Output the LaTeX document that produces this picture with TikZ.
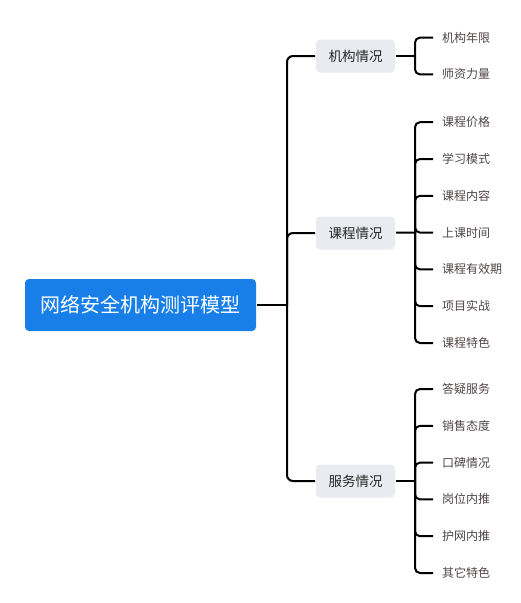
\documentclass[tikz,border=0pt]{standalone}
\usepackage{fontspec}
\newfontfamily\cjk{Noto Sans CJK SC}
\usetikzlibrary{positioning}
\definecolor{rootblue}{RGB}{24,127,233}
\definecolor{topicgray}{RGB}{232,235,239}
\definecolor{leaftext}{RGB}{78,70,70}
\tikzset{
    rootbox/.style = {rectangle, rounded corners=4pt, fill=rootblue, text=white,
        minimum width=231pt, minimum height=52pt, inner sep=0pt,
        font=\cjk\fontsize{20}{23}\selectfont},
    topicbox/.style = {rectangle, rounded corners=4pt, fill=topicgray, text=black!85,
        minimum width=79pt, minimum height=33pt, inner sep=0pt,
        font=\cjk\fontsize{13.5}{16}\selectfont},
    leaf/.style = {anchor=west, inner xsep=8pt, inner ysep=2pt, text=leaftext,
        font=\cjk\fontsize{12}{14}\selectfont},
    branch/.style = {rounded corners=6pt}}

\begin{document}
\begin{tikzpicture}[x=1pt, y=-1pt, line width=2pt]
    \useasboundingbox (0,0) rectangle (521,603);
    \node[rootbox] (root) at (140.5,305) {网络安全机构测评模型};
    \coordinate (trunk) at (287,305);
    \node[topicbox] (jg) at (355.5,56) {机构情况};
    \node[topicbox] (kc) at (355.5,233) {课程情况};
    \node[topicbox] (fw) at (355.5,481) {服务情况};
    \draw (root) -- (trunk);
    \foreach \t in {jg,kc,fw}
        \draw[branch] (trunk) |- (\t.west);
    % leaves of each topic
    \foreach \t/\y/\n/\items in {jg/56/2/{机构年限,师资力量},
        kc/232.6/7/{课程价格,学习模式,课程内容,上课时间,课程有效期,项目实战,课程特色},
        fw/481/6/{答疑服务,销售态度,口碑情况,岗位内推,护网内推,其它特色}}{
        \coordinate (\t-fork) at (415,\y);
        \draw (\t) -- (\t-fork);
        \foreach \c [count=\i] in \items {
            \pgfmathsetmacro\yc{\y+(\i-(\n+1)/2)*36.8}
            \node[leaf] (\t-\i) at (433,\yc) {\c};
            \draw[branch, rounded corners=5pt] (\t-fork) |- (\t-\i.west);
        }
    }
\end{tikzpicture}
\end{document}
